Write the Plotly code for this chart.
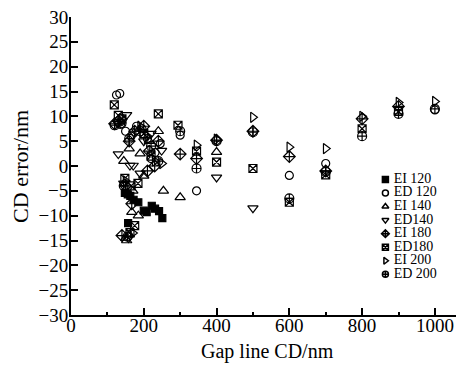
import plotly.graph_objects as go

# ---------------- data ----------------
EI120_x = [148, 156, 163, 172, 185, 157, 200, 208, 222, 231, 242, 251]
EI120_y = [-5.4, -5.7, -6.0, -6.8, -7.3, -11.5, -9.0, -9.3, -8.0, -8.6, -9.1, -10.5]

ED120_x = [125, 134, 140, 150, 165, 180, 195, 210, 220, 231, 245, 300, 345, 600, 700, 1000]
ED120_y = [14.3, 14.6, 8.5, 7.0, 6.0, 8.0, 7.5, 5.5, 1.5, 2.7, 4.5, 6.2, -5.0, -1.9, 0.5, 11.3]

EI140_x = [150, 153, 160, 167, 185, 170, 160, 200, 215, 240, 254, 300, 400, 145, 190]
EI140_y = [-14.5, -15.0, -13.8, -9.3, -10.0, -5.0, 3.5, -2.0, 5.0, 7.0, -5.0, -6.3, 2.8, 1.0, 2.5]

ED140_x = [130, 153, 140, 162, 171, 180, 200, 220, 249, 400, 500, 145, 158, 190]
ED140_y = [2.4, 10.3, 9.0, 0.1, 0.1, 7.0, 5.0, 6.5, 3.1, -2.3, -8.5, -3.5, -14.5, -1.5]

EI180_x = [120, 130, 160, 175, 200, 215, 240, 300, 345, 400, 500, 600, 700, 800, 900, 150, 167, 140, 210, 230]
EI180_y = [8.5, 9.0, 5.0, 7.0, 8.0, 3.0, 5.0, 2.4, 1.5, 5.2, 7.0, 1.9, -1.0, 9.5, 12.0, -4.0, -7.6, -14.0, -1.0, 0.0]

ED180_x = [119, 130, 140, 240, 294, 345, 400, 500, 600, 700, 800, 900, 148, 165, 184, 162, 200, 220, 175]
ED180_y = [12.3, 10.2, 9.5, 10.5, 8.2, 3.0, 0.8, -0.5, -7.3, -1.8, 7.5, 11.0, -2.5, -4.0, -3.5, -13.4, 6.5, 2.0, -12.0]

EI200_x = [140, 190, 210, 230, 250, 150, 170, 345, 400, 500, 600, 700, 800, 900, 1000]
EI200_y = [9.5, 8.0, 6.0, 1.0, 0.5, -3.0, -13.5, 4.2, 5.4, 9.8, 3.8, 3.5, 10.0, 12.8, 13.0]

ED200_x = [120, 135, 160, 190, 220, 240, 145, 155, 300, 345, 400, 500, 600, 700, 800, 900, 1000]
ED200_y = [8.2, 8.5, 5.5, 7.0, 4.0, 1.0, -4.0, -14.2, 7.0, -0.5, 5.0, 6.8, -6.5, -1.2, 6.0, 10.5, 11.5]

series_names = ["EI 120", "ED 120", "EI 140", "ED140", "EI 180", "ED180", "EI 200", "ED 200"]
series_x = [EI120_x, ED120_x, EI140_x, ED140_x, EI180_x, ED180_x, EI200_x, ED200_x]
series_y = [EI120_y, ED120_y, EI140_y, ED140_y, EI180_y, ED180_y, EI200_y, ED200_y]

y_ticks = list(range(-30, 31, 5))
x_ticks = list(range(0, 1001, 200))

# ---------------- styles ----------------
symbols = ["square", "circle-open", "triangle-up-open", "triangle-down-open",
           "diamond-cross-open", "square-x-open", "triangle-right-open", "circle-cross-open"]
sizes = [7, 8, 9, 9, 9, 8, 9, 9]
FONT = "Liberation Serif"

fig = go.Figure()
for name, xs, ys, sym, sz in zip(series_names, series_x, series_y, symbols, sizes):
    fig.add_trace(go.Scatter(
        x=xs, y=ys, mode="markers", name=name, showlegend=False,
        marker=dict(symbol=sym, size=sz, color="black",
                    line=dict(color="black", width=1.2)),
    ))

# custom compact legend on hidden overlay axes
LEG_X = 0.80
LEG_TOP = 0.455
LEG_STEP = 0.0455
for i, (name, sym) in enumerate(zip(series_names, symbols)):
    fig.add_trace(go.Scatter(
        x=[LEG_X], y=[LEG_TOP - i * LEG_STEP], xaxis="x2", yaxis="y2",
        mode="markers+text", text=[" " + name], textposition="middle right",
        textfont=dict(family=FONT, size=14, color="black"),
        marker=dict(symbol=sym, size=6, color="black", line=dict(color="black", width=1.5)),
        showlegend=False, hoverinfo="skip",
    ))

# the page body adds an 8px offset, so the figure is drawn 8px smaller
fig.update_layout(
    width=456, height=361,
    margin=dict(l=63, r=0, t=9, b=54),
    paper_bgcolor="white", plot_bgcolor="white",
    font=dict(family=FONT, color="black", size=19),
    xaxis=dict(
        range=[0, 1080], tickvals=x_ticks, ticks="inside", ticklen=7, tickwidth=1.5,
        tickcolor="black", showline=True, linecolor="black", linewidth=2,
        showgrid=False, zeroline=False, tickfont=dict(size=19), automargin=False,
        ticklabelstandoff=-8, ticklabeloverflow="allow",
        minor=dict(dtick=100, ticks="inside", ticklen=3, tickwidth=1.5, tickcolor="black", showgrid=False),
    ),
    yaxis=dict(
        range=[-30, 30], tickvals=y_ticks, ticks="inside", ticklen=7, tickwidth=1.5,
        tickcolor="black", showline=True, linecolor="black", linewidth=2,
        showgrid=False, zeroline=False, tickfont=dict(size=19), automargin=False,
        ticklabelstandoff=-3, ticklabeloverflow="allow",
    ),
    xaxis2=dict(domain=[0, 1], range=[0, 1], overlaying="x", visible=False),
    yaxis2=dict(domain=[0, 1], range=[0, 1], overlaying="y", visible=False, anchor="x2"),
    annotations=[
        dict(text="Gap line CD/nm", xref="paper", yref="paper", x=0.5, y=-0.124,
             xanchor="center", yanchor="middle", showarrow=False, font=dict(size=20)),
        dict(text="CD error/nm", xref="paper", yref="paper", x=-0.13, y=0.5,
             xanchor="center", yanchor="middle", textangle=-90, showarrow=False, font=dict(size=22)),
    ],
)

fig.write_html("out.html")
